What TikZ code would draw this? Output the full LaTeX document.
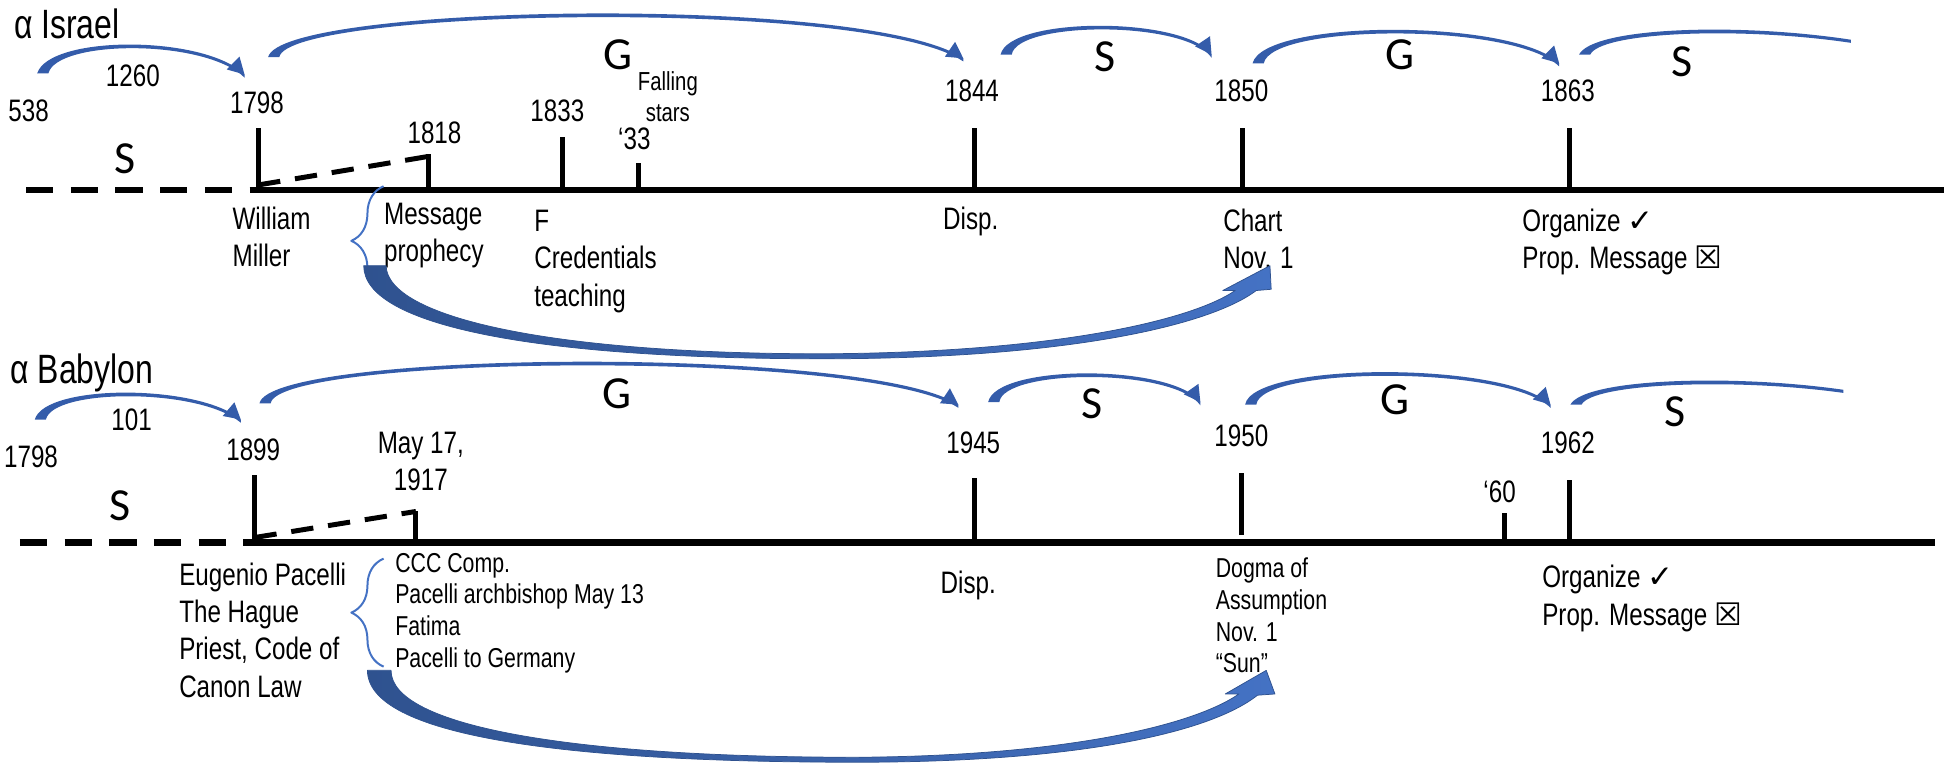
\documentclass[tikz,border=0pt]{standalone}
\usepackage{fontspec}
\setmainfont[FakeStretch=0.78]{Liberation Sans}
\newfontfamily\letterfont{Carlito}
\newfontfamily\symbfont{DejaVu Sans}
\usetikzlibrary{arrows.meta,decorations.pathreplacing,positioning,calc}
\definecolor{arcblue}{RGB}{52,92,170}
\definecolor{braceblue}{RGB}{68,114,196}
\definecolor{swooshdark}{RGB}{47,82,143}
\definecolor{swooshlight}{RGB}{68,114,196}
\tikzset{
  year/.style={font=\fontsize{12.5}{15}\selectfont, inner sep=0pt},
  info/.style={font=\fontsize{12.5}{15}\selectfont, align=left, anchor=north west, inner sep=0pt},
  smallinfo/.style={font=\fontsize{11}{12.8}\selectfont, align=left, anchor=north west, inner sep=0pt},
  period/.style={font=\letterfont\fontsize{18.5}{18}\selectfont, inner sep=0pt},
  title/.style={font=\fontsize{16.5}{18}\selectfont, anchor=base west, inner sep=0pt},
  arc/.style={draw=arcblue, line width=1pt, -{Triangle[length=6.5pt,width=7pt]}},
  openarc/.style={draw=none},
  axis/.style={line width=2.5pt},
  tick/.style={line width=2pt},
  brace/.style={draw=braceblue, line width=0.8pt, decorate, decoration={brace, amplitude=13pt}},
  swoosh/.style={left color=swooshdark, right color=swooshlight, draw=swooshdark, line width=0.3pt}
}
% tapered curved arrow: style, start, control 1, control 2, end
\newcommand{\curvedarrow}[5][arc]{%
  \fill[arcblue] (#2) .. controls (#3) and (#4) .. (#5) -- ++(0,2.5)
    .. controls ($(#4)+(0,3)$) and ($(#3)+(6,4)$) .. ($(#2)+(9,0)$) -- cycle;
  \draw[#1] ($(#5)!5pt!(#4)$) -- (#5);}
\begin{document}
\begin{tikzpicture}[x=0.5pt, y=-0.5pt, line join=round]
\useasboundingbox (0,0) rectangle (1566,618);

\node[title] (israel) at (11,31) {α Israel};
\draw[axis, dash pattern=on 11pt off 7pt] (21,153) -- (208,153);
\draw[axis] (208,153) -- (1566,153);
\foreach \x/\t in {208/103, 345/124, 453/110, 514/131, 785/103, 1001/103, 1264/103}
  \draw[tick] (\x,153) -- (\x,\t);
\draw[tick, dash pattern=on 9pt off 6pt] (208,149) -- (345,126);

\node[year] (i538) at (23,89) {538};
\node[year] (i1260) at (107,61) {1260};
\node[year] (i1798) at (207,83) {1798};
\node[year] (i1818) at (350,107) {1818};
\node[year] (i1833) at (449,89) {1833};
\node[year, font=\fontsize{10.5}{12.5}\selectfont, align=center] (falling) at (538,78) {Falling\\stars};
\node[year] (i33) at (511,112) {‘33};
\node[year] (i1844) at (783,73) {1844};
\node[year] (i1850) at (1000,73) {1850};
\node[year] (i1863) at (1263,73) {1863};

\node[period] (is1) at (101,128) {S};
\node[period] (ig1) at (498,44) {G};
\node[period] (is2) at (890,46) {S};
\node[period] (ig2) at (1128,44) {G};
\node[period] (is3) at (1355,50) {S};

\coordinate (ia1) at (30,59);   \coordinate (ia2) at (197,60);
\coordinate (ib1) at (216,46);  \coordinate (ib2) at (776,47);
\coordinate (ic1) at (806,44);  \coordinate (ic2) at (976,44);
\coordinate (id1) at (1009,51); \coordinate (id2) at (1256,51);
\coordinate (ie1) at (1272,44); \coordinate (ie2) at (1491,32);
\curvedarrow{ia1}{40,28}{165,28}{ia2}
\curvedarrow{ib1}{226,3}{700,-5}{ib2}
\curvedarrow{ic1}{813,13}{955,13}{ic2}
\curvedarrow{id1}{1018,15}{1220,15}{id2}
\curvedarrow[openarc]{ie1}{1283,22}{1400,18}{ie2}

\node[info] (miller) at (187,166) {William\\Miller};
\node[info] (message) at (309,163) {Message\\prophecy};
\node[info] (cred) at (430,169) {F\\Credentials\\teaching};
\node[year] (idisp) at (782,178) {Disp.};
\node[info] (chart) at (985,168) {Chart\\Nov. 1};
\node[info] (iorg) at (1226,168) {Organize {\symbfont ✓}\\Prop. Message {\symbfont ☒}};
\draw[brace] (309,238) -- (309,150);
\shade[swoosh] (293,214) .. controls (293,262) and (430,289) .. (663,289)
  .. controls (860,289) and (975,262) .. (1012,234) -- (1024,233) -- (1023,214)
  -- (985,234) -- (995,234) .. controls (960,258) and (850,284) .. (663,285)
  .. controls (440,285) and (312,255) .. (311,214) -- cycle;

\node[title] (babylon) at (8,309) {α Babylon};
\draw[axis, dash pattern=on 11pt off 7pt] (16,437) -- (205,437);
\draw[axis] (205,437) -- (1559,437);
\foreach \x/\t in {205/383, 335/412, 785/385, 1212/413, 1264/387}
  \draw[tick] (\x,437) -- (\x,\t);
\draw[tick] (1000,431) -- (1000,381);
\draw[tick, dash pattern=on 9pt off 6pt] (205,433) -- (335,412);

\node[year] (b1798) at (25,368) {1798};
\node[year] (b101) at (106,338) {101};
\node[year] (b1899) at (204,362) {1899};
\node[year, align=center] (b1917) at (339,372) {May 17,\\1917};
\node[year] (b1945) at (784,357) {1945};
\node[year] (b1950) at (1000,351) {1950};
\node[year] (b60) at (1208,396) {‘60};
\node[year] (b1962) at (1263,357) {1962};

\node[period] (bs1) at (97,407) {S};
\node[period] (bg1) at (497,317) {G};
\node[period] (bs2) at (880,325) {S};
\node[period] (bg2) at (1124,322) {G};
\node[period] (bs3) at (1349,332) {S};

\coordinate (ba1) at (28,338);   \coordinate (ba2) at (194,338);
\coordinate (bb1) at (209,325);  \coordinate (bb2) at (772,326);
\coordinate (bc1) at (796,324);  \coordinate (bc2) at (967,324);
\coordinate (bd1) at (1003,326); \coordinate (bd2) at (1249,326);
\coordinate (be1) at (1265,326); \coordinate (be2) at (1485,314);
\curvedarrow{ba1}{36,309}{160,309}{ba2}
\curvedarrow{bb1}{217,282}{700,278}{bb2}
\curvedarrow{bc1}{802,293}{945,293}{bc2}
\curvedarrow{bd1}{1009,291}{1215,291}{bd2}
\curvedarrow[openarc]{be1}{1276,305}{1395,301}{be2}

\node[info] (pacelli) at (144,453) {Eugenio Pacelli\\The Hague\\Priest, Code of\\Canon Law};
\node[smallinfo] (ccc) at (318,445) {CCC Comp.\\Pacelli archbishop May 13\\Fatima\\Pacelli to Germany};
\node[year] (bdisp) at (780,472) {Disp.};
\node[smallinfo] (dogma) at (979,449) {Dogma of\\Assumption\\Nov. 1\\“Sun”};
\node[info] (borg) at (1242,455) {Organize {\symbfont ✓}\\Prop. Message {\symbfont ☒}};
\draw[brace] (309,537) -- (309,450);
\shade[swoosh] (296,540) .. controls (296,592) and (450,614) .. (690,614)
  .. controls (870,614) and (975,590) .. (1013,560) -- (1027,559) -- (1020,540)
  -- (987,559) -- (998,559) .. controls (962,584) and (860,609) .. (690,610)
  .. controls (460,610) and (315,585) .. (315,540) -- cycle;
\end{tikzpicture}
\end{document}
